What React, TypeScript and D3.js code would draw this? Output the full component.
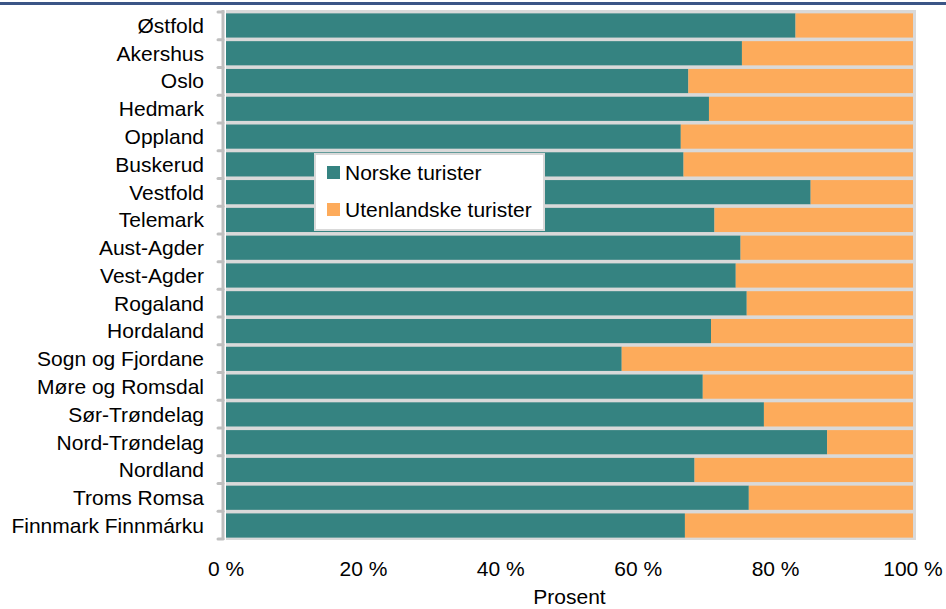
import React, { useEffect, useRef } from 'react';
import * as d3 from 'd3';

const regions = [
  'Østfold', 'Akershus', 'Oslo', 'Hedmark', 'Oppland', 'Buskerud', 'Vestfold',
  'Telemark', 'Aust-Agder', 'Vest-Agder', 'Rogaland', 'Hordaland',
  'Sogn og Fjordane', 'Møre og Romsdal', 'Sør-Trøndelag', 'Nord-Trøndelag',
  'Nordland', 'Troms Romsa', 'Finnmark Finnmárku'
];
const norske = [
  82.9, 75.1, 67.3, 70.3, 66.2, 66.6, 85.1, 71.1, 74.9, 74.2,
  75.8, 70.6, 57.6, 69.4, 78.3, 87.5, 68.2, 76.1, 66.8
];
const utenlandske = norske.map(v => 100 - v);
const seriesNames = ['Norske turister', 'Utenlandske turister'];
const colors = ['#358381', '#fdab5b'];
const xTicks = [0, 20, 40, 60, 80, 100];

const App = () => {
  const ref = useRef<SVGSVGElement>(null);

  useEffect(() => {
    const width = 946;
    const left = 226;
    const right = 913;
    const top = 12;
    const bottom = 539;
    const font = '"Liberation Sans", Arial, sans-serif';

    const svg = d3.select(ref.current);
    svg.selectAll('*').remove();

    // top rule
    svg.append('rect')
      .attr('x', 0).attr('y', 2)
      .attr('width', width).attr('height', 3)
      .attr('fill', '#3b5586');

    const rows = regions.map((r, i) => ({ region: r, norske: norske[i], utenlandske: utenlandske[i] }));
    const stack = d3.stack<any>().keys(['norske', 'utenlandske'])(rows);

    const x = d3.scaleLinear().domain([0, 100]).range([left, right]);
    const y = d3.scaleBand().domain(regions).range([top, bottom]).paddingInner(0.13).paddingOuter(0.05);

    // shadow area behind bars
    svg.append('rect')
      .attr('x', left).attr('y', top - 2)
      .attr('width', right - left + 3).attr('height', bottom - top + 3)
      .attr('fill', '#d9d9d9');

    stack.forEach((layer, k) => {
      svg.append('g')
        .selectAll('rect')
        .data(layer)
        .enter()
        .append('rect')
        .attr('x', d => x(d[0]))
        .attr('y', d => y(d.data.region)!)
        .attr('width', d => x(d[1]) - x(d[0]))
        .attr('height', y.bandwidth())
        .attr('fill', colors[k]);
    });

    // category axis
    const axis = svg.append('g');
    axis.append('line')
      .attr('x1', left - 3).attr('x2', left - 3)
      .attr('y1', top - 2).attr('y2', bottom + 1)
      .attr('stroke', '#bfbfbf').attr('stroke-width', 3);
    const bounds = d3.range(regions.length + 1).map(i => top + i * (bottom - top) / regions.length);
    axis.selectAll('line.tick')
      .data(bounds)
      .enter()
      .append('line')
      .attr('class', 'tick')
      .attr('x1', left - 8).attr('x2', left - 3)
      .attr('y1', d => d).attr('y2', d => d)
      .attr('stroke', '#bfbfbf').attr('stroke-width', 3)
      .attr('stroke-linecap', 'round');

    svg.append('g')
      .selectAll('text')
      .data(regions)
      .enter()
      .append('text')
      .attr('x', 204)
      .attr('y', d => y(d)! + y.bandwidth() / 2)
      .attr('dy', '0.35em')
      .attr('text-anchor', 'end')
      .style('font-family', font)
      .style('font-size', '21px')
      .attr('fill', '#000')
      .text(d => d);

    svg.append('g')
      .selectAll('text')
      .data(xTicks)
      .enter()
      .append('text')
      .attr('x', d => x(d))
      .attr('y', 576)
      .attr('text-anchor', 'middle')
      .style('font-family', font)
      .style('font-size', '21px')
      .attr('fill', '#000')
      .text(d => `${d} %`);

    svg.append('text')
      .attr('x', (left + right) / 2)
      .attr('y', 604)
      .attr('text-anchor', 'middle')
      .style('font-family', font)
      .style('font-size', '21px')
      .attr('fill', '#000')
      .text('Prosent');

    // legend
    const legend = svg.append('g').attr('transform', 'translate(315,154)');
    legend.append('rect')
      .attr('width', 229).attr('height', 76)
      .attr('fill', '#fff')
      .attr('stroke', '#d9d9d9').attr('stroke-width', 2);
    seriesNames.forEach((name, i) => {
      const g = legend.append('g').attr('transform', `translate(12,${12 + i * 37})`);
      g.append('rect').attr('width', 13).attr('height', 13).attr('fill', colors[i]);
      g.append('text')
        .attr('x', 18).attr('y', 14)
        .style('font-family', font)
        .style('font-size', '21px')
        .attr('fill', '#000')
        .text(name);
    });
  }, []);

  return (
    <svg
      ref={ref}
      width={946}
      height={609}
      style={{ position: 'absolute', left: 0, top: 0, display: 'block', background: '#fff' }}
    />
  );
};

export default App;
